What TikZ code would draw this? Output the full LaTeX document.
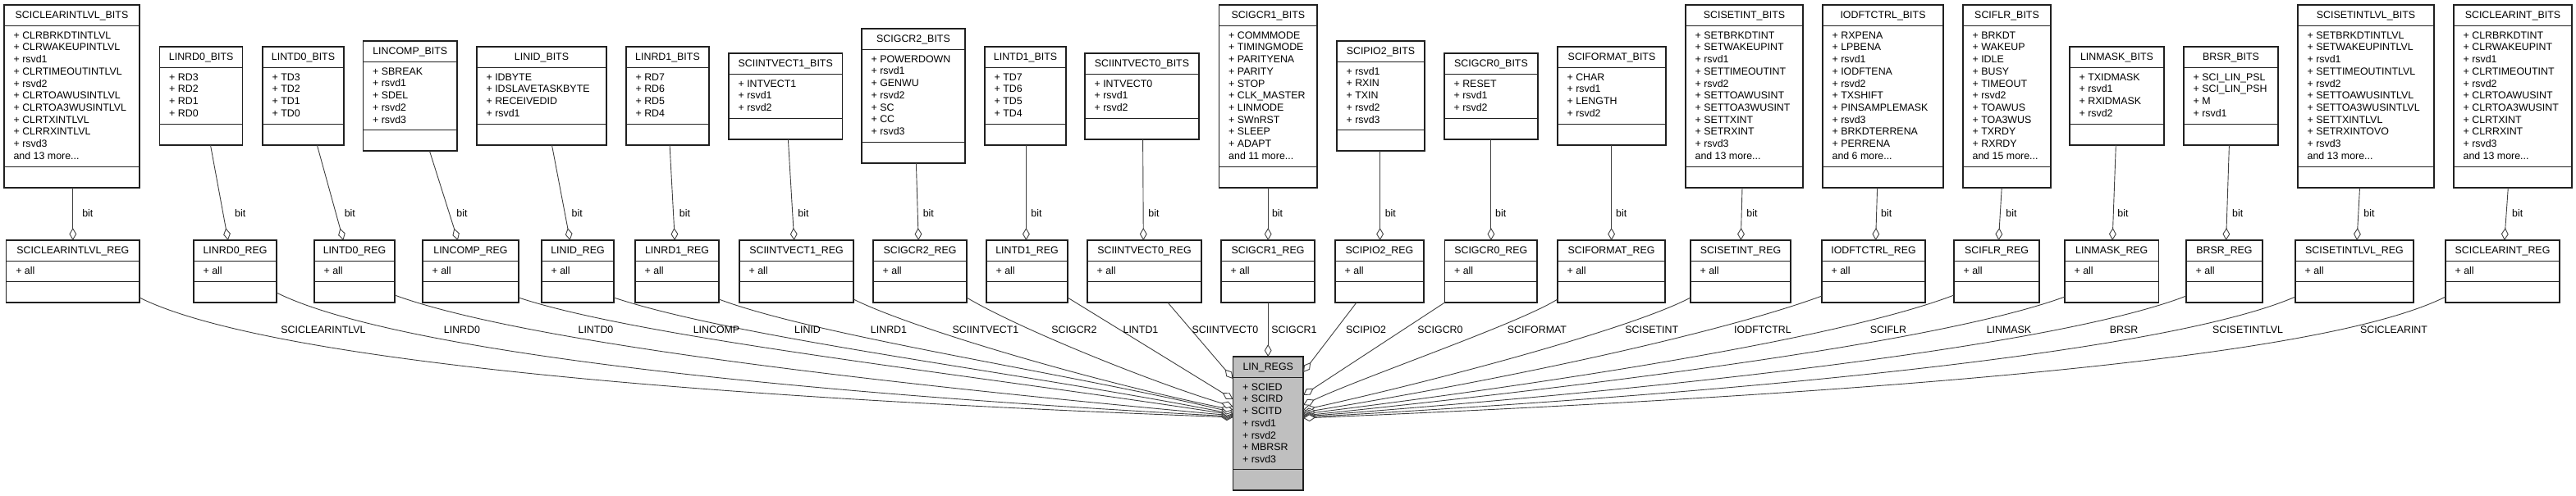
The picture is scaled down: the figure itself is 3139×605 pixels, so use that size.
\documentclass[tikz,border=0pt]{standalone}
\usepackage{fontspec}
\setmainfont{Liberation Sans}
\usetikzlibrary{arrows.meta}
\definecolor{edgecol}{HTML}{404040}
\definecolor{boxcol}{HTML}{202020}
\definecolor{regsfill}{HTML}{BFBFBF}
\newcommand{\andmore}[1]{and #1 more...}
% #1 id, #2 x1, #3 y1, #4 x2, #5 y2, #6 title, #7 attributes, #8 fill
\newcommand{\umlclass}[8]{%
  \node[classbox, fill=#8, minimum width={(#4-#2)*0.5pt}, minimum height={(#5-#3)*0.5pt}] (#1) at ({(#2+#4)/2},{(#3+#5)/2}) {};
  \draw[classline] ([yshift=-12.75pt]#1.north west) -- ([yshift=-12.75pt]#1.north east);
  \draw[classline] ([yshift=12.75pt]#1.south west) -- ([yshift=12.75pt]#1.south east);
  \node[titletext] (#1-t) at ([yshift=-8.3pt]#1.north) {#6};
  \foreach \a [count=\i] in {#7} {
    \node[attrtext] (#1-a\i) at ([xshift=5.6pt, yshift={-20.6pt-(\i-1)*7.35pt}]#1.north west) {\a};
  }
}
\begin{document}
\begin{tikzpicture}[x=0.5pt,y=-0.5pt,
  every node/.style={font=\fontsize{6.2}{7.35}\selectfont},
  classbox/.style={draw=boxcol, line width=0.55pt, rectangle, inner sep=0pt, outer sep=0pt},
  classline/.style={draw=boxcol, line width=0.55pt},
  titletext/.style={anchor=base, inner sep=0pt},
  attrtext/.style={anchor=base west, inner sep=0pt},
  lbl/.style={inner sep=0pt},
  agg/.style={draw=edgecol, line width=0.45pt, -{Diamond[fill=white, length=7.5pt, width=4.4pt]}}]
\useasboundingbox (0,0) rectangle (3139,605);

% ---------- BITS row ----------
\umlclass{b1}{5}{6}{170}{229}{SCICLEARINTLVL\_BITS}{+ CLRBRKDTINTLVL, + CLRWAKEUPINTLVL, + rsvd1, + CLRTIMEOUTINTLVL, + rsvd2, + CLRTOAWUSINTLVL, + CLRTOA3WUSINTLVL, + CLRTXINTLVL, + CLRRXINTLVL, + rsvd3, \andmore{13}}{white}
\umlclass{b2}{194.6}{57}{295.8}{177}{LINRD0\_BITS}{+ RD3, + RD2, + RD1, + RD0}{white}
\umlclass{b3}{320}{57}{419}{177}{LINTD0\_BITS}{+ TD3, + TD2, + TD1, + TD0}{white}
\umlclass{b4}{442.5}{50}{557}{184}{LINCOMP\_BITS}{+ SBREAK, + rsvd1, + SDEL, + rsvd2, + rsvd3}{white}
\umlclass{b5}{581}{57}{739}{177}{LINID\_BITS}{+ IDBYTE, + IDSLAVETASKBYTE, + RECEIVEDID, + rsvd1}{white}
\umlclass{b6}{763}{57}{864}{177}{LINRD1\_BITS}{+ RD7, + RD6, + RD5, + RD4}{white}
\umlclass{b7}{888}{65}{1026.5}{170}{SCIINTVECT1\_BITS}{+ INTVECT1, + rsvd1, + rsvd2}{white}
\umlclass{b8}{1050}{35}{1176}{199}{SCIGCR2\_BITS}{+ POWERDOWN, + rsvd1, + GENWU, + rsvd2, + SC, + CC, + rsvd3}{white}
\umlclass{b9}{1200}{57}{1299}{177}{LINTD1\_BITS}{+ TD7, + TD6, + TD5, + TD4}{white}
\umlclass{b10}{1322}{65}{1461}{170}{SCIINTVECT0\_BITS}{+ INTVECT0, + rsvd1, + rsvd2}{white}
\umlclass{b11}{1485.6}{6}{1605}{229}{SCIGCR1\_BITS}{+ COMMMODE, + TIMINGMODE, + PARITYENA, + PARITY, + STOP, + CLK\_MASTER, + LINMODE, + SWnRST, + SLEEP, + ADAPT, \andmore{11}}{white}
\umlclass{b12}{1629}{50}{1736}{184}{SCIPIO2\_BITS}{+ rsvd1, + RXIN, + TXIN, + rsvd2, + rsvd3}{white}
\umlclass{b13}{1760}{65}{1874}{170}{SCIGCR0\_BITS}{+ RESET, + rsvd1, + rsvd2}{white}
\umlclass{b14}{1898}{57}{2030}{177}{SCIFORMAT\_BITS}{+ CHAR, + rsvd1, + LENGTH, + rsvd2}{white}
\umlclass{b15}{2054}{6}{2197}{229}{SCISETINT\_BITS}{+ SETBRKDTINT, + SETWAKEUPINT, + rsvd1, + SETTIMEOUTINT, + rsvd2, + SETTOAWUSINT, + SETTOA3WUSINT, + SETTXINT, + SETRXINT, + rsvd3, \andmore{13}}{white}
\umlclass{b16}{2221}{6}{2368}{229}{IODFTCTRL\_BITS}{+ RXPENA, + LPBENA, + rsvd1, + IODFTENA, + rsvd2, + TXSHIFT, + PINSAMPLEMASK, + rsvd3, + BRKDTERRENA, + PERRENA, \andmore{6}}{white}
\umlclass{b17}{2392}{6}{2499}{229}{SCIFLR\_BITS}{+ BRKDT, + WAKEUP, + IDLE, + BUSY, + TIMEOUT, + rsvd2, + TOAWUS, + TOA3WUS, + TXRDY, + RXRDY, \andmore{15}}{white}
\umlclass{b18}{2522}{57}{2637}{177}{LINMASK\_BITS}{+ TXIDMASK, + rsvd1, + RXIDMASK, + rsvd2}{white}
\umlclass{b19}{2661}{57}{2776}{177}{BRSR\_BITS}{+ SCI\_LIN\_PSL, + SCI\_LIN\_PSH, + M, + rsvd1}{white}
\umlclass{b20}{2800}{6}{2966}{229}{SCISETINTLVL\_BITS}{+ SETBRKDTINTLVL, + SETWAKEUPINTLVL, + rsvd1, + SETTIMEOUTINTLVL, + rsvd2, + SETTOAWUSINTLVL, + SETTOA3WUSINTLVL, + SETTXINTLVL, + SETRXINTOVO, + rsvd3, \andmore{13}}{white}
\umlclass{b21}{2990}{6}{3134}{229}{SCICLEARINT\_BITS}{+ CLRBRKDTINT, + CLRWAKEUPINT, + rsvd1, + CLRTIMEOUTINT, + rsvd2, + CLRTOAWUSINT, + CLRTOA3WUSINT, + CLRTXINT, + CLRRXINT, + rsvd3, \andmore{13}}{white}

% ---------- REG row ----------
\umlclass{r1}{7.7}{293}{170}{369}{SCICLEARINTLVL\_REG}{+ all}{white}
\umlclass{r2}{236}{293}{337}{369}{LINRD0\_REG}{+ all}{white}
\umlclass{r3}{383}{293}{481}{369}{LINTD0\_REG}{+ all}{white}
\umlclass{r4}{515}{293}{632}{369}{LINCOMP\_REG}{+ all}{white}
\umlclass{r5}{660}{293}{748}{369}{LINID\_REG}{+ all}{white}
\umlclass{r6}{774}{293}{876}{369}{LINRD1\_REG}{+ all}{white}
\umlclass{r7}{901}{293}{1040}{369}{SCIINTVECT1\_REG}{+ all}{white}
\umlclass{r8}{1064}{293}{1178}{369}{SCIGCR2\_REG}{+ all}{white}
\umlclass{r9}{1202}{293}{1301}{369}{LINTD1\_REG}{+ all}{white}
\umlclass{r10}{1325}{293}{1464}{369}{SCIINTVECT0\_REG}{+ all}{white}
\umlclass{r11}{1488}{293}{1602}{369}{SCIGCR1\_REG}{+ all}{white}
\umlclass{r12}{1627}{293}{1735}{369}{SCIPIO2\_REG}{+ all}{white}
\umlclass{r13}{1760.5}{293}{1873}{369}{SCIGCR0\_REG}{+ all}{white}
\umlclass{r14}{1898}{293}{2029}{369}{SCIFORMAT\_REG}{+ all}{white}
\umlclass{r15}{2060}{293}{2182}{369}{SCISETINT\_REG}{+ all}{white}
\umlclass{r16}{2220}{293}{2346}{369}{IODFTCTRL\_REG}{+ all}{white}
\umlclass{r17}{2381}{293}{2485}{369}{SCIFLR\_REG}{+ all}{white}
\umlclass{r18}{2516}{293}{2630.5}{369}{LINMASK\_REG}{+ all}{white}
\umlclass{r19}{2664}{293}{2757}{369}{BRSR\_REG}{+ all}{white}
\umlclass{r20}{2797}{293}{2941}{369}{SCISETINTLVL\_REG}{+ all}{white}
\umlclass{r21}{2980}{293}{3119}{369}{SCICLEARINT\_REG}{+ all}{white}

% ---------- LIN_REGS ----------
\umlclass{lin}{1502.5}{435}{1588}{598}{LIN\_REGS}{+ SCIED, + SCIRD, + SCITD, + rsvd1, + rsvd2, + MBRSR, + rsvd3}{regsfill}

% ---------- BITS -> REG edges ----------
\draw[agg] (b1.south -| 88.8,0) -- (r1.north -| 88.8,0);
\draw[agg] (b2.south -| 256.5,0) -- (r2.north -| 277.9,0);
\draw[agg] (b3.south -| 386.4,0) -- (r3.north -| 418.4,0);
\draw[agg] (b4.south -| 523.4,0) -- (r4.north -| 557.9,0);
\draw[agg] (b5.south -| 672.5,0) -- (r5.north -| 694.6,0);
\draw[agg] (b6.south -| 816.1,0) -- (r6.north -| 822.3,0);
\draw[agg] (b7.south -| 960.4,0) -- (r7.north -| 967.7,0);
\draw[agg] (b8.south -| 1116.4,0) -- (r8.north -| 1119.2,0);
\draw[agg] (b9.south -| 1250.4,0) -- (r9.north -| 1250.4,0);
\draw[agg] (b10.south -| 1392.6,0) -- (r10.north -| 1393.3,0);
\draw[agg] (b11.south -| 1545.2,0) -- (r11.north -| 1545.2,0);
\draw[agg] (b12.south -| 1681.6,0) -- (r12.north -| 1681.6,0);
\draw[agg] (b13.south -| 1816.9,0) -- (r13.north -| 1816.9,0);
\draw[agg] (b14.south -| 1963.6,0) -- (r14.north -| 1963.6,0);
\draw[agg] (b15.south -| 2123,0) -- (r15.north -| 2121.3,0);
\draw[agg] (b16.south -| 2287.6,0) -- (r16.north -| 2285.6,0);
\draw[agg] (b17.south -| 2439.2,0) -- (r17.north -| 2435.4,0);
\draw[agg] (b18.south -| 2578.3,0) -- (r18.north -| 2574.1,0);
\draw[agg] (b19.south -| 2716.4,0) -- (r19.north -| 2712.6,0);
\draw[agg] (b20.south -| 2875.5,0) -- (r20.north -| 2872,0);
\draw[agg] (b21.south -| 3056.3,0) -- (r21.north -| 3051.8,0);

% bit labels
\foreach \x [count=\i] in {99.9,285.8,419.4,556,696.3,827.5,972,1124.4,1256,1399,1549.6,1687.4,1821.7,1968.7,2128,2291.8,2444,2580,2719.8,2880,3060.7} {
  \node[lbl, anchor=west] (bl\i) at (\x,260) {bit};
}

% ---------- REG -> LIN_REGS edges ----------
\draw[agg] (r1.east |- 0,363) .. controls +(120,60) and +(-832.5,-31) .. (lin.west |- 0,509);
\draw[agg] (r2.east |- 0,357) .. controls +(120,60) and +(-665.5,-36) .. (lin.west |- 0,508);
\draw[agg] (r3.east |- 0,360) .. controls +(150,55) and +(-461.5,-42) .. (lin.west |- 0,507);
\draw[agg] (r4.east |- 0,363) .. controls +(150,50) and +(-310.5,-48) .. (lin.west |- 0,506);
\draw[agg] (r5.east |- 0,363) .. controls +(150,50) and +(-252.5,-50) .. (lin.west |- 0,505);
\draw[agg] (r6.east |- 0,365) .. controls +(120,45) and +(-202.5,-48) .. (lin.west |- 0,503);
\draw[agg] (r7.east |- 0,365) .. controls +(70,35) and +(-172.5,-35) .. (lin.west |- 0,500);
\draw[agg] (r8.east |- 0,363) .. controls +(62,37) and +(-102.5,-31) .. (lin.west |- 0,496);
\draw[agg] (r9.east |- 0,363) -- (lin.west |- 0,487);
\draw[agg] (r10.south -| 1423,0) -- (lin.west |- 0,462);
\draw[agg] (r11.south -| 1545.2,0) -- (lin.north -| 1545.2,0);
\draw[agg] (r12.south -| 1653,0) -- (lin.east |- 0,454);
\draw[agg] (r13.south west) -- (lin.east |- 0,482);
\draw[agg] (r14.west |- 0,365) .. controls +(-48,30) and +(72,-34) .. (lin.east |- 0,494);
\draw[agg] (r15.west |- 0,363) .. controls +(-70,37) and +(172,-38) .. (lin.east |- 0,500);
\draw[agg] (r16.west |- 0,361) .. controls +(-120,44) and +(262,-43) .. (lin.east |- 0,503);
\draw[agg] (r17.west |- 0,360) .. controls +(-131,50) and +(342,-43) .. (lin.east |- 0,505);
\draw[agg] (r18.west |- 0,362) .. controls +(-136,50) and +(432,-45) .. (lin.east |- 0,507);
\draw[agg] (r19.west |- 0,361) .. controls +(-134,52) and +(562,-43) .. (lin.east |- 0,508);
\draw[agg] (r20.west |- 0,362) .. controls +(-127,55) and +(692,-39) .. (lin.east |- 0,509);
\draw[agg] (r21.west |- 0,362) .. controls +(-120,60) and +(892,-38) .. (lin.east |- 0,510);

% edge labels
\node[lbl] (e1) at (394,402) {SCICLEARINTLVL};
\node[lbl] (e2) at (563,402) {LINRD0};
\node[lbl] (e3) at (726,402) {LINTD0};
\node[lbl] (e4) at (873,402) {LINCOMP};
\node[lbl] (e5) at (984,402) {LINID};
\node[lbl] (e6) at (1083,402) {LINRD1};
\node[lbl] (e7) at (1201,402) {SCIINTVECT1};
\node[lbl] (e8) at (1309,402) {SCIGCR2};
\node[lbl] (e9) at (1390,402) {LINTD1};
\node[lbl] (e10) at (1493,402) {SCIINTVECT0};
\node[lbl] (e11) at (1577,402) {SCIGCR1};
\node[lbl] (e12) at (1664.6,402) {SCIPIO2};
\node[lbl] (e13) at (1755,402) {SCIGCR0};
\node[lbl] (e14) at (1873,402) {SCIFORMAT};
\node[lbl] (e15) at (2012.7,402) {SCISETINT};
\node[lbl] (e16) at (2148,402) {IODFTCTRL};
\node[lbl] (e17) at (2301,402) {SCIFLR};
\node[lbl] (e18) at (2448,402) {LINMASK};
\node[lbl] (e19) at (2588,402) {BRSR};
\node[lbl] (e20) at (2739,402) {SCISETINTLVL};
\node[lbl] (e21) at (2917,402) {SCICLEARINT};
\end{tikzpicture}
\end{document}
